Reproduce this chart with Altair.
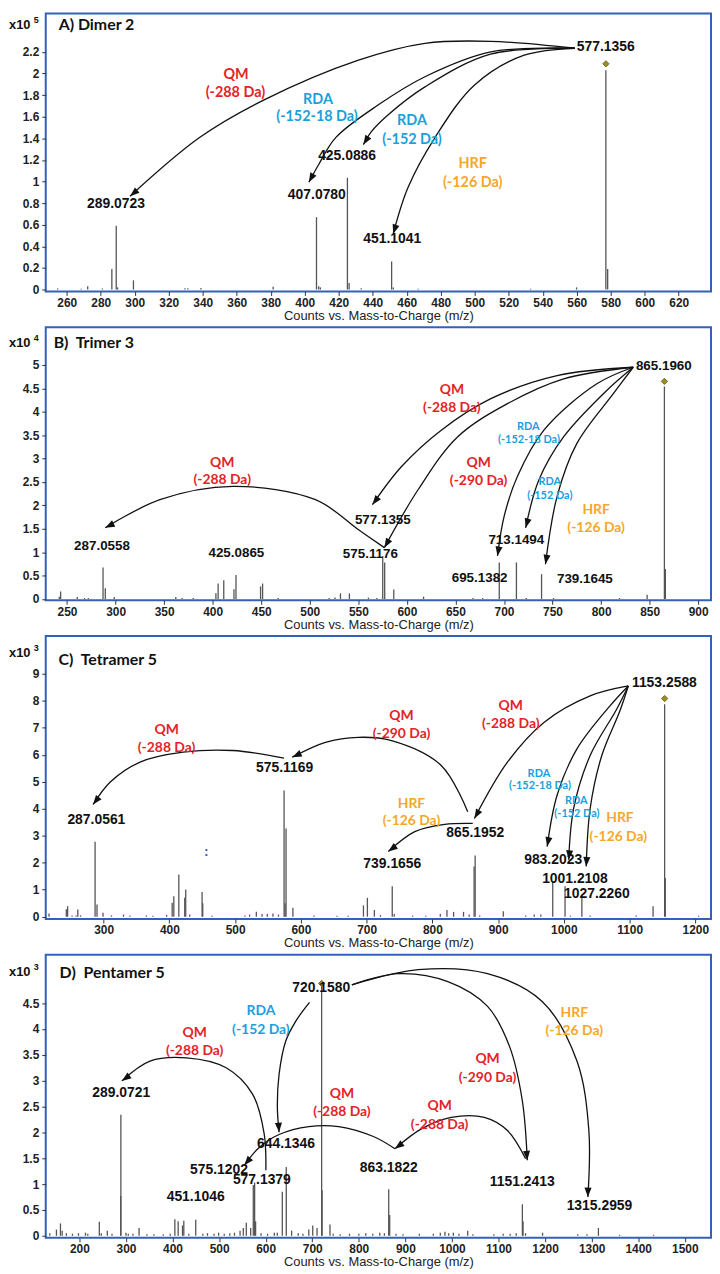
import altair as alt
import pandas as pd
import numpy as np

NUM_FONT = "Liberation Sans"
ANN_FONT = "Lato"
RED, BLUE, ORANGE = "#E42328", "#19A0DD", "#F5A72A"
BORDER = "#3361B5"
XTITLE = "Counts vs. Mass-to-Charge (m/z)"

# ---------------- Panel A: Dimer 2 (x10^5) ----------------
A_peaks = [(254.6, 0.01), (268.4, 0.008), (272.3, 0.03), (280.9, 0.01), (286.5, 0.19),
           (289.07, 0.59), (289.9, 0.02), (299.2, 0.085), (329.5, 0.012), (331.2, 0.012),
           (338.9, 0.015), (381.4, 0.025), (406.9, 0.67), (408.2, 0.03), (409.2, 0.02),
           (425.09, 1.035), (426.1, 0.06), (433.2, 0.012), (451.10, 0.26), (452.1, 0.02),
           (466.7, 0.008), (532.9, 0.008), (559.9, 0.02), (577.14, 2.03), (578.2, 0.19)]
A_precursor = [(577.14, 2.09)]
A_labels = [("577.1356", 577.1, 2.243), ("289.0723", 288.9, 0.791), ("407.0780", 407.1, 0.876),
            ("425.0886", 424.9, 1.235), ("451.1041", 451.5, 0.469)]
A_notes = [("QM", 359.6, 1.986, RED), ("(-288 Da)", 359.2, 1.818, RED),
           ("RDA", 407.8, 1.756, BLUE), ("(-152-18 Da)", 407.2, 1.593, BLUE),
           ("RDA", 463.1, 1.556, BLUE), ("(-152 Da)", 463.1, 1.388, BLUE),
           ("HRF", 498.8, 1.158, ORANGE), ("(-126 Da)", 498.8, 0.990, ORANGE)]
A_small = []
A_arrows = [
    [(558.9, 2.234), (509.3, 2.298), (470.7, 2.280), (431.6, 2.124), (376.1, 1.756), (338.1, 1.407), (297.2, 0.864)],
    [(558.9, 2.234), (509.5, 2.200), (470.7, 1.970), (443.3, 1.710), (418.2, 1.407), (408.2, 1.158), (402.4, 0.993)],
    [(558.9, 2.234), (509.3, 2.179), (470.7, 1.876), (449.1, 1.618), (439.2, 1.462), (434.5, 1.342)],
    [(558.9, 2.234), (529.1, 2.170), (499.9, 1.894), (476.6, 1.407), (460.8, 0.947), (452.0, 0.515)],
]

# ---------------- Panel B: Trimer 3 (x10^4) ----------------
B_peaks = [(242.0, 0.05), (243.4, 0.16), (260.5, 0.04), (268, 0.02), (272, 0.02), (287.06, 0.67),
           (289.4, 0.23), (298.6, 0.04), (362.0, 0.04), (368.5, 0.02), (380, 0.02), (403.3, 0.12),
           (405.6, 0.33), (411.4, 0.40), (421.9, 0.21), (424.0, 0.51), (449.3, 0.27), (451.4, 0.33),
           (467.5, 0.02), (520, 0.02), (526, 0.03), (531.6, 0.12), (540.8, 0.12), (560.4, 0.03),
           (569.0, 0.02), (575.12, 0.92), (577.14, 0.78), (586.5, 0.20), (617.2, 0.05), (668, 0.02),
           (678, 0.02), (695.14, 0.78), (712.8, 0.78), (723, 0.02), (738.7, 0.53), (751, 0.02),
           (819, 0.02), (847.4, 0.09), (865.2, 4.54), (866.2, 0.64)]
B_precursor = [(865.2, 4.65)]
B_labels = [("865.1960", 864.6, 4.986), ("287.0558", 286.0, 1.133), ("425.0865", 424.4, 0.976),
            ("577.1355", 575.2, 1.697), ("575.1176", 562.4, 0.955), ("713.1494", 712.7, 1.260),
            ("695.1382", 674.9, 0.439), ("739.1645", 783.3, 0.424)]
B_notes = [("QM", 646.3, 4.471, RED), ("(-288 Da)", 646.3, 4.089, RED),
           ("QM", 409.8, 2.915, RED), ("(-288 Da)", 409.8, 2.546, RED),
           ("QM", 673.9, 2.915, RED), ("(-290 Da)", 673.9, 2.512, RED),
           ("HRF", 794.9, 1.910, ORANGE), ("(-126 Da)", 794.9, 1.521, ORANGE)]
B_small = [("RDA", 725.0, 3.679, BLUE), ("(-152-18 Da)", 725.7, 3.395, BLUE),
           ("RDA", 747.2, 2.491, BLUE), ("(-152 Da)", 747.2, 2.207, BLUE)]
B_arrows = [
    [(833.1, 4.952), (754.7, 4.774), (686.5, 4.280), (635.4, 3.607), (594.5, 2.830), (564.5, 2.016)],
    [(833.1, 4.952), (761.5, 4.704), (703.6, 4.174), (652.4, 3.467), (611.5, 2.334), (576.8, 1.097)],
    [(576.8, 1.097), (550.2, 1.479), (505.9, 2.122), (420.6, 2.406), (345.6, 2.122), (289.4, 1.521)],
    [(833.1, 4.952), (795.6, 4.598), (741.1, 3.607), (713.8, 2.618), (700.2, 1.770), (693.3, 0.921)],
    [(833.1, 4.952), (805.8, 4.456), (761.5, 3.467), (736.0, 2.546), (722.3, 1.521)],
    [(833.1, 4.952), (812.6, 4.386), (775.1, 3.325), (754.7, 2.194), (742.7, 0.743)],
]

# ---------------- Panel C: Tetramer 5 (x10^3) ----------------
C_peaks = [(217.0, 0.12), (243.3, 0.28), (245.3, 0.39), (252, 0.05), (258, 0.05), (260.8, 0.27),
           (265, 0.05), (287.06, 2.78), (290.0, 0.45), (299.1, 0.15), (312, 0.05), (330.3, 0.08),
           (340, 0.05), (365, 0.05), (375, 0.04), (395.8, 0.07), (404.3, 0.52), (406.8, 0.76),
           (414.4, 1.56), (423.4, 0.70), (424.9, 1.01), (431, 0.08), (449.8, 0.92), (450.8, 0.50),
           (465, 0.04), (515, 0.05), (522, 0.08), (532.3, 0.18), (541, 0.10), (549, 0.10),
           (557.6, 0.12), (566, 0.08), (574.5, 4.68), (576.0, 0.50), (577.5, 3.27), (587.9, 0.33),
           (620, 0.05), (655, 0.04), (672, 0.04), (695.2, 0.42), (701.2, 0.70), (711.8, 0.25),
           (721, 0.06), (739.0, 1.13), (742.0, 0.10), (770, 0.04), (790, 0.04), (812.1, 0.10),
           (822.2, 0.25), (832.3, 0.18), (847.4, 0.18), (856, 0.08), (863.5, 1.86), (865.1, 2.27),
           (872, 0.05), (907.9, 0.20), (942, 0.05), (955, 0.08), (965, 0.08), (983.1, 1.31),
           (1001.8, 1.13), (1010, 0.04), (1027.4, 0.70), (1040, 0.05), (1110, 0.05), (1135.7, 0.39),
           (1153.26, 7.87), (1154.3, 1.43), (1205, 0.04)]
C_precursor = [(1153.26, 8.08)]
C_labels = [("1153.2588", 1152.9, 8.669), ("575.1169", 575.2, 5.506), ("287.0561", 289.0, 3.582),
            ("865.1952", 865.2, 3.089), ("739.1656", 739.1, 1.949), ("983.2023", 983.7, 2.111),
            ("1001.2108", 1016.9, 1.412), ("1027.2260", 1050.2, 0.824)]
C_notes = [("QM", 395.8, 6.929, RED), ("(-288 Da)", 395.8, 6.241, RED),
           ("QM", 753.1, 7.444, RED), ("(-290 Da)", 753.1, 6.767, RED),
           ("QM", 919.2, 7.812, RED), ("(-288 Da)", 919.2, 7.135, RED),
           ("HRF", 768.2, 4.193, ORANGE), ("(-126 Da)", 768.2, 3.545, ORANGE),
           ("HRF", 1085.3, 3.641, ORANGE), ("(-126 Da)", 1082.9, 2.968, ORANGE),
           (":", 456.2, 2.398, "#3355AA")]
C_small = [("RDA", 962.1, 5.296, BLUE), ("(-152-18 Da)", 963.6, 4.833, BLUE),
           ("RDA", 1018.9, 4.281, BLUE), ("(-152 Da)", 1019.9, 3.803, BLUE)]
C_arrows = [
    [(1098.0, 8.547), (1040.0, 8.180), (969.7, 7.198), (914.2, 5.726), (863.9, 3.641)],
    [(853.8, 3.888), (813.5, 5.605), (738.0, 6.524), (687.7, 6.646), (637.4, 6.462), (587.0, 5.910)],
    [(574.5, 5.873), (496.4, 6.157), (420.9, 6.094), (355.5, 5.726), (310.2, 4.991), (284.0, 4.156)],
    [(861.4, 3.457), (818.7, 3.420), (773.3, 3.152), (733.0, 2.416)],
    [(1098.0, 8.547), (1070.2, 7.812), (1019.9, 6.216), (989.7, 4.502), (974.6, 2.600)],
    [(1098.0, 8.547), (1080.3, 7.687), (1040.0, 5.973), (1014.9, 4.009), (1007.4, 2.111)],
    [(1098.0, 8.547), (1085.3, 7.628), (1057.7, 5.973), (1040.0, 4.009), (1034.0, 1.865)],
]

# ---------------- Panel D: Pentamer 5 (x10^3) ----------------
D_peaks = [(136.4, 0.05), (150.7, 0.12), (159.3, 0.24), (163, 0.10), (172, 0.05), (185, 0.04),
           (198, 0.05), (213, 0.06), (218, 0.04), (242.8, 0.27), (247, 0.05), (259.9, 0.10),
           (270, 0.04), (288.7, 0.77), (289.07, 2.34), (300, 0.06), (305, 0.04), (315, 0.04),
           (328.1, 0.15), (345, 0.03), (360, 0.03), (380, 0.03), (395, 0.04), (405.0, 0.32),
           (412.1, 0.28), (421.4, 0.20), (424.2, 0.29), (435, 0.04), (449.8, 0.31), (465, 0.04),
           (475, 0.05), (489, 0.04), (499, 0.06), (511, 0.04), (523, 0.05), (533, 0.06),
           (545, 0.10), (552, 0.15), (558.4, 0.25), (567.8, 0.15), (573.4, 0.98), (576.3, 1.03),
           (578.4, 0.28), (590, 0.05), (604, 0.04), (618.6, 0.06), (625, 0.06), (635.7, 0.85),
           (644.2, 1.33), (655.7, 0.10), (670, 0.05), (680, 0.04), (692.6, 0.12), (701.1, 0.20),
           (710.3, 0.15), (720.16, 4.85), (721.2, 0.88), (738.1, 0.22), (745, 0.04), (760, 0.03),
           (780, 0.04), (800, 0.04), (815, 0.05), (830, 0.04), (845, 0.06), (855, 0.05),
           (864.2, 0.90), (866.3, 0.40), (880, 0.04), (895, 0.03), (930, 0.04), (960, 0.04),
           (975, 0.06), (985, 0.08), (993, 0.05), (1003, 0.06), (1015, 0.04), (1033.8, 0.10),
           (1045, 0.03), (1090, 0.03), (1110, 0.04), (1125, 0.04), (1138, 0.05), (1151.24, 0.61),
           (1152.7, 0.28), (1158, 0.05), (1194.6, 0.06), (1270, 0.03), (1290, 0.03),
           (1314.5, 0.15), (1360, 0.02), (1433, 0.02)]
D_precursor = [(720.16, 4.88)]
D_labels = [("720.1580", 719.4, 4.788), ("289.0721", 289.7, 2.752), ("644.1346", 643.7, 1.780),
            ("575.1202", 499.7, 1.268), ("577.1379", 591.8, 1.075), ("451.1046", 449.6, 0.743),
            ("863.1822", 864.4, 1.312), ("1151.2413", 1151.1, 1.043), ("1315.2959", 1316.8, 0.576)]
D_notes = [("RDA", 589.7, 4.340, BLUE), ("(-152 Da)", 589.7, 3.970, BLUE),
           ("QM", 447.5, 3.924, RED), ("(-288 Da)", 447.5, 3.572, RED),
           ("QM", 763.7, 2.741, RED), ("(-288 Da)", 763.7, 2.401, RED),
           ("HRF", 1262.7, 4.308, ORANGE), ("(-126 Da)", 1262.7, 3.956, ORANGE),
           ("QM", 1076.5, 3.413, RED), ("(-290 Da)", 1076.5, 3.059, RED),
           ("QM", 973.5, 2.502, RED), ("(-288 Da)", 973.5, 2.151, RED)]
D_small = []
D_arrows = [
    [(694.2, 4.513), (664.4, 4.148), (643.0, 3.764), (628.8, 3.125), (625.1, 2.483), (628.8, 2.003)],
    [(600.4, 1.268), (596.8, 1.972), (571.8, 2.741), (515.1, 3.251), (429.8, 3.443), (351.5, 3.380), (291.2, 2.996)],
    [(877.6, 1.684), (831.3, 1.920), (756.7, 2.113), (692.7, 2.113), (628.8, 1.959), (586.1, 1.709), (554.1, 1.364)],
    [(1158.2, 1.492), (1119.2, 2.036), (1069.5, 2.291), (998.3, 2.291), (934.3, 2.068), (877.6, 1.684)],
    [(785.0, 4.853), (884.6, 5.070), (991.2, 4.916), (1076.5, 4.436), (1123.4, 3.668), (1151.1, 2.612), (1161.8, 1.460)],
    [(785.0, 4.853), (927.3, 5.147), (1076.5, 5.070), (1193.8, 4.532), (1268.4, 3.380), (1294.0, 2.036), (1291.9, 0.749)],
]

NB = "\u00a0"
PANELS = [
    dict(title="A) Dimer 2", title_pos=(255.2, 2.446), exp="5", exp_v=2.446,
         peaks=A_peaks, prec=A_precursor, labels=A_labels, notes=A_notes, small=A_small,
         arrows=A_arrows, xdom=[247.6, 639.0], ydom=[-0.018, 2.556], h=280,
         xticks=list(range(260, 621, 20)), yticks=[round(0.2 * i, 1) for i in range(12)],
         numsize=14, notesize=14.5),
    dict(title="B)" + NB + " Trimer 3", title_pos=(236.2, 5.461), exp="4", exp_v=5.461,
         peaks=B_peaks, prec=B_precursor, labels=B_labels, notes=B_notes, small=B_small,
         arrows=B_arrows, xdom=[228.06, 913.2], ydom=[-0.028, 5.807], h=275,
         xticks=list(range(250, 901, 50)), yticks=[0.5 * i for i in range(11)],
         numsize=13.5, notesize=14),
    dict(title="C)" + NB + " Tetramer 5", title_pos=(231.6, 9.526), exp="3", exp_v=9.772,
         peaks=C_peaks, prec=C_precursor, labels=C_labels, notes=C_notes, small=C_small,
         arrows=C_arrows, xdom=[212.0, 1223.8], ydom=[-0.085, 10.397], h=285,
         xticks=list(range(300, 1201, 100)), yticks=list(range(10)),
         numsize=14, notesize=14),
    dict(title="D)" + NB + " Pentamer 5", title_pos=(157.5, 5.076), exp="3", exp_v=5.108,
         peaks=D_peaks, prec=D_precursor, labels=D_labels, notes=D_notes, small=D_small,
         arrows=D_arrows, xdom=[127.7, 1556.3], ydom=[-0.038, 5.435], h=285,
         xticks=list(range(200, 1501, 100)), yticks=[0.5 * i for i in range(10)],
         numsize=14, notesize=14),
]

WIDTH = 670


def head_angle(p1, p2, kx, ky):
    dx = (p2[0] - p1[0]) * kx
    dy = -(p2[1] - p1[1]) * ky
    return float((np.degrees(np.arctan2(dx, -dy)) + 360.0) % 360.0)


def make_panel(P):
    kx = WIDTH / (P["xdom"][1] - P["xdom"][0])
    ky = P["h"] / (P["ydom"][1] - P["ydom"][0])
    xs = alt.Scale(domain=P["xdom"], nice=False, zero=False)
    ys = alt.Scale(domain=P["ydom"], nice=False, zero=False)
    xaxis = alt.Axis(values=P["xticks"], title=XTITLE, grid=False, domain=False,
                     tickSize=4, tickColor="#333", labelFont=NUM_FONT, labelFontSize=12,
                     labelFontWeight="bold", labelColor="#222", labelPadding=2,
                     labelOverlap=False, labelFlush=False, format="d", titleFont=NUM_FONT,
                     titleFontSize=13, titleFontWeight="normal", titleColor="#222",
                     titlePadding=1)
    yaxis = alt.Axis(values=P["yticks"], title=None, grid=False, domain=False, tickSize=4,
                     tickColor="#333", labelFont=NUM_FONT, labelFontSize=12,
                     labelFontWeight="bold", labelColor="#222", labelPadding=3,
                     format=".1~f", labelOverlap=False)
    X = alt.X("mz:Q", scale=xs, axis=xaxis)
    Y = alt.Y("v:Q", scale=ys, axis=yaxis)

    peaks = pd.DataFrame(P["peaks"], columns=["mz", "v"])
    layers = [alt.Chart(peaks).mark_rule(color="#555", strokeWidth=1.3).encode(
        x=X, y=Y, y2=alt.datum(0))]

    prec = pd.DataFrame(P["prec"], columns=["mz", "v"])
    layers.append(alt.Chart(prec).mark_point(shape="diamond", filled=True, size=40,
                                             color="#9C8F1E", stroke="#5C5610",
                                             strokeWidth=0.8, opacity=1).encode(x=X, y=Y))

    rows, heads = [], []
    for i, pts in enumerate(P["arrows"]):
        for j, (m, v) in enumerate(pts):
            rows.append(dict(aid=i, ord=j, mz=m, v=v))
        heads.append(dict(mz=pts[-1][0], v=pts[-1][1],
                          ang=head_angle(pts[-2], pts[-1], kx, ky)))
    arr = pd.DataFrame(rows)
    layers.append(alt.Chart(arr).mark_line(color="#111", strokeWidth=1.3,
                                           interpolate="catmull-rom").encode(
        x=X, y=Y, detail="aid:N", order="ord:Q"))
    hd = pd.DataFrame(heads)
    layers.append(alt.Chart(hd).mark_point(shape="M0,0 L-0.75,2 L0.75,2 Z", filled=True,
                                           size=90, color="#111", strokeWidth=0,
                                           opacity=1).encode(
        x=X, y=Y, angle=alt.Angle("ang:Q", scale=None)))

    lab = pd.DataFrame(P["labels"], columns=["t", "mz", "v"])
    layers.append(alt.Chart(lab).mark_text(font=NUM_FONT, fontSize=P["numsize"],
                                           fontWeight="bold", color="#111",
                                           align="center", baseline="middle").encode(
        x=X, y=Y, text="t:N"))

    notes = pd.DataFrame(P["notes"], columns=["t", "mz", "v", "col"])
    layers.append(alt.Chart(notes).mark_text(font=ANN_FONT, fontSize=P["notesize"],
                                             fontWeight="bold", align="center",
                                             baseline="middle").encode(
        x=X, y=Y, text="t:N", color=alt.Color("col:N", scale=None)))
    if P["small"]:
        sm = pd.DataFrame(P["small"], columns=["t", "mz", "v", "col"])
        layers.append(alt.Chart(sm).mark_text(font=ANN_FONT, fontSize=11,
                                              fontWeight="bold", align="center",
                                              baseline="middle").encode(
            x=X, y=Y, text="t:N", color=alt.Color("col:N", scale=None)))

    tdf = pd.DataFrame([dict(t=P["title"], mz=P["title_pos"][0], v=P["title_pos"][1])])
    layers.append(alt.Chart(tdf).mark_text(font=ANN_FONT, fontSize=16, fontWeight="bold",
                                           color="#111", align="left",
                                           baseline="middle").encode(
        x=X, y=Y, text="t:N"))

    edf = pd.DataFrame([dict(t="x10", v=P["exp_v"], e=P["exp"])])
    layers.append(alt.Chart(edf).mark_text(font=NUM_FONT, fontSize=13, fontWeight="bold",
                                           color="#111", align="left",
                                           baseline="middle").encode(
        x=alt.value(-37), y=Y, text="t:N"))
    layers.append(alt.Chart(edf).mark_text(font=NUM_FONT, fontSize=9, fontWeight="bold",
                                           color="#111", align="left", baseline="middle",
                                           dy=-5).encode(
        x=alt.value(-12), y=Y, text="e:N"))

    return alt.layer(*layers).properties(width=WIDTH, height=P["h"])


chart = alt.vconcat(*[make_panel(P) for P in PANELS], spacing=3).properties(
    padding={"left": 0, "top": 0, "right": 0, "bottom": 0}, background="white"
).configure_view(stroke=BORDER, strokeWidth=2)

chart.save("out.html", embed_options={"renderer": "svg", "actions": False})
